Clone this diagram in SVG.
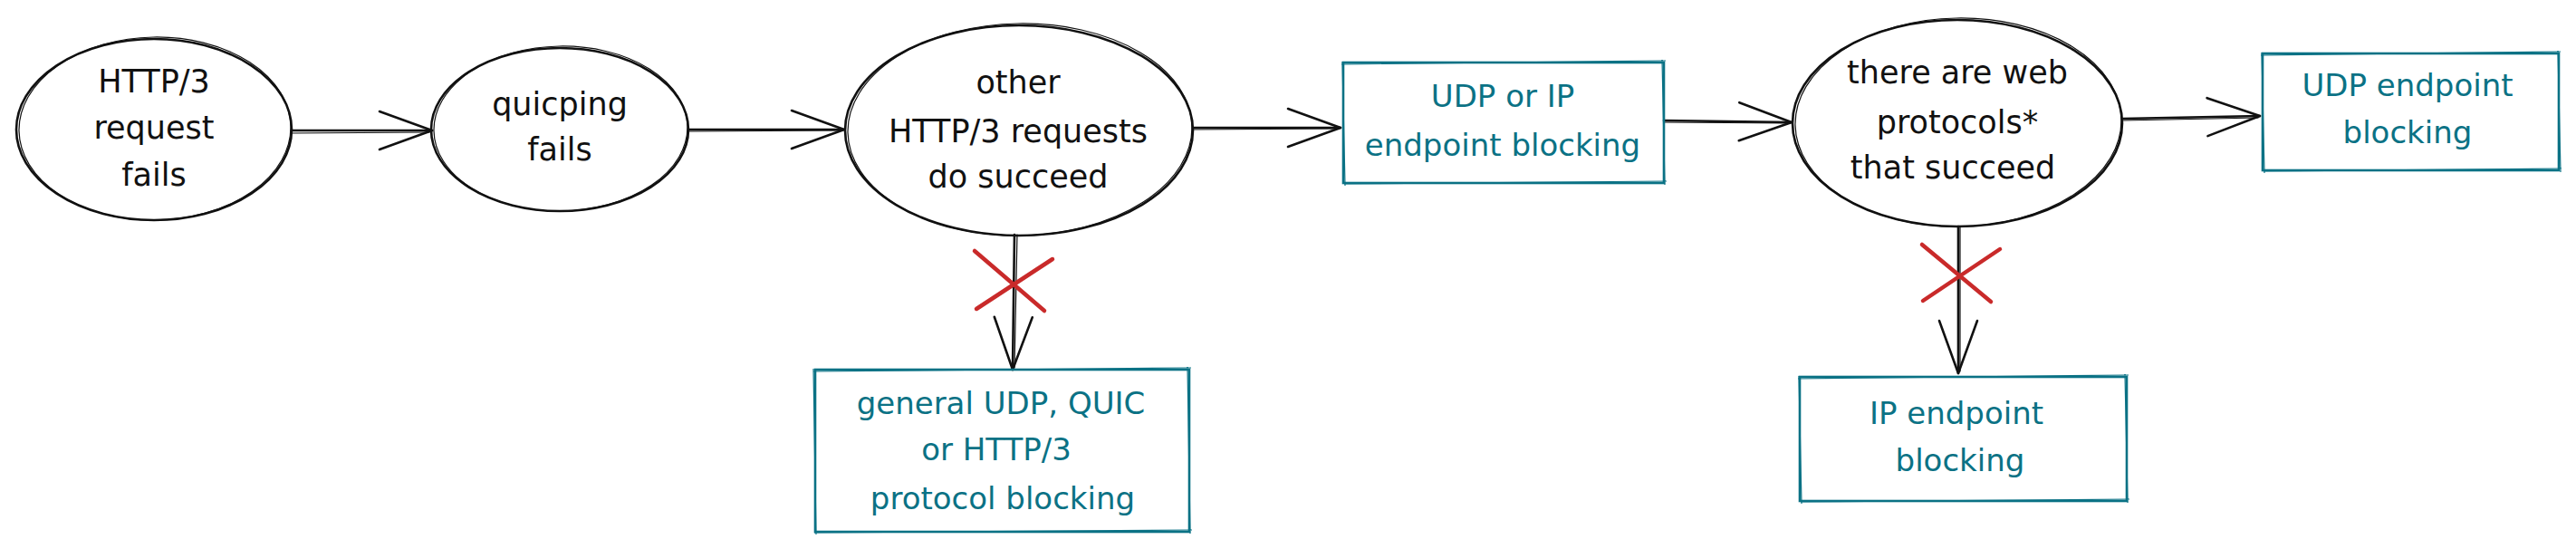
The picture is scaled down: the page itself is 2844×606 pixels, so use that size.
<svg xmlns="http://www.w3.org/2000/svg" width="2844" height="606" viewBox="0 0 2844 606">
<style>
  .bg { fill: #ffffff; }
  .ell { fill: none; stroke: #111111; stroke-width: 2.6; }
  .ell2 { fill: none; stroke: #111111; stroke-width: 1.2; }
  .box { fill: none; stroke: #0b7285; stroke-width: 2.6; }
  .box2 { fill: none; stroke: #0b7285; stroke-width: 1.2; }
  .t { font-family: "DejaVu Sans", "Liberation Sans", sans-serif; font-size: 35px; text-anchor: middle; fill: #111111; }
  .tb { font-family: "DejaVu Sans", "Liberation Sans", sans-serif; font-size: 34px; text-anchor: middle; fill: #0b7285; }
  .line { fill: none; stroke: #111111; stroke-width: 2.6; stroke-linecap: round; marker-end: url(#ah); }
  .line2 { fill: none; stroke: #111111; stroke-width: 1.2; stroke-linecap: round; }
  .cross { fill: none; stroke: #c92a2a; stroke-width: 4.5; stroke-linecap: round; }
</style>
<defs>
  <marker id="ah" markerUnits="userSpaceOnUse" markerWidth="80" markerHeight="60" viewBox="-66 -30 80 60" refX="0" refY="0" orient="auto" overflow="visible">
    <path d="M-58,-21 L0,0 L-58,21" fill="none" stroke="#111111" stroke-width="2.6" stroke-linecap="round" stroke-linejoin="round"/>
  </marker>
</defs>
<rect class="bg" x="0" y="0" width="2844" height="606"/>

<g id="connectors">
  <path class="line" d="M322,144 L477,144"/>
  <path class="line2" d="M322,147 L474,146"/>
  <path class="line" d="M760,143 L932,143"/>
  <path class="line2" d="M760,145 L930,144"/>
  <path class="line" d="M1317,141 L1480,141"/>
  <path class="line2" d="M1317,143 L1478,142"/>
  <path class="line" d="M1837,133 L1978,135"/>
  <path class="line2" d="M1837,135 L1976,136"/>
  <path class="line" d="M2343,131 L2495,128"/>
  <path class="line2" d="M2343,133 L2493,130"/>
  <path class="line" d="M1120,259 L1118,408"/>
  <path class="line2" d="M1123,259 L1120,406"/>
  <path class="line" d="M2162,250 L2162,412"/>
  <path class="line2" d="M2164,250 L2164,410"/>
</g>

<g id="cross-marks">
  <path class="cross" d="M1076,277 L1153,343 M1078,341 L1162,286"/>
  <path class="cross" d="M2122,270 L2198,333 M2123,332 L2208,275"/>
</g>

<g id="node-http3-fails">
  <ellipse class="ell" cx="170" cy="143" rx="152" ry="100"/>
  <ellipse class="ell2" cx="171" cy="142" rx="150" ry="101" transform="rotate(-1 170 143)"/>
  <text class="t" x="170" y="102">HTTP/3</text>
  <text class="t" x="170" y="153">request</text>
  <text class="t" x="170" y="205">fails</text>
</g>

<g id="node-quicping-fails">
  <ellipse class="ell" cx="618" cy="143" rx="142" ry="90"/>
  <ellipse class="ell2" cx="619" cy="142" rx="140" ry="91" transform="rotate(-1 618 143)"/>
  <text class="t" x="618" y="127">quicping</text>
  <text class="t" x="618" y="177">fails</text>
</g>

<g id="node-other-requests">
  <ellipse class="ell" cx="1125" cy="144" rx="192" ry="116"/>
  <ellipse class="ell2" cx="1126" cy="143" rx="190" ry="117" transform="rotate(-1 1125 144)"/>
  <text class="t" x="1124" y="103">other</text>
  <text class="t" x="1124" y="157">HTTP/3 requests</text>
  <text class="t" x="1124" y="207">do succeed</text>
</g>

<g id="node-udp-or-ip">
  <rect class="box" x="1483" y="69" width="354" height="133"/>
  <path class="box2" d="M1481,71 L1839,67 M1835,66 L1838,204 M1840,200 L1484,203 M1485,205 L1482,68"/>
  <text class="tb" x="1659" y="118">UDP or IP</text>
  <text class="tb" x="1659" y="172">endpoint blocking</text>
</g>

<g id="node-web-protocols">
  <ellipse class="ell" cx="2161" cy="136" rx="182" ry="114"/>
  <ellipse class="ell2" cx="2162" cy="135" rx="180" ry="115" transform="rotate(-1 2161 136)"/>
  <text class="t" x="2161" y="92">there are web</text>
  <text class="t" x="2161" y="147">protocols*</text>
  <text class="t" x="2156" y="197">that succeed</text>
</g>

<g id="node-udp-endpoint">
  <rect class="box" x="2498" y="59" width="327" height="129"/>
  <path class="box2" d="M2496,61 L2827,57 M2824,56 L2827,190 M2828,186 L2499,189 M2500,191 L2497,58"/>
  <text class="tb" x="2658" y="106">UDP endpoint</text>
  <text class="tb" x="2658" y="158">blocking</text>
</g>

<g id="node-protocol-blocking">
  <rect class="box" x="900" y="408" width="413" height="179"/>
  <path class="box2" d="M898,410 L1315,406 M1311,405 L1314,589 M1316,585 L899,588 M901,590 L898,407"/>
  <text class="tb" x="1105" y="457">general UDP, QUIC</text>
  <text class="tb" x="1100" y="508">or HTTP/3</text>
  <text class="tb" x="1107" y="562">protocol blocking</text>
</g>

<g id="node-ip-endpoint">
  <rect class="box" x="1987" y="416" width="361" height="137"/>
  <path class="box2" d="M1985,418 L2350,414 M2346,413 L2349,555 M2351,551 L1988,554 M1989,556 L1986,415"/>
  <text class="tb" x="2160" y="468">IP endpoint</text>
  <text class="tb" x="2164" y="520">blocking</text>
</g>
</svg>
